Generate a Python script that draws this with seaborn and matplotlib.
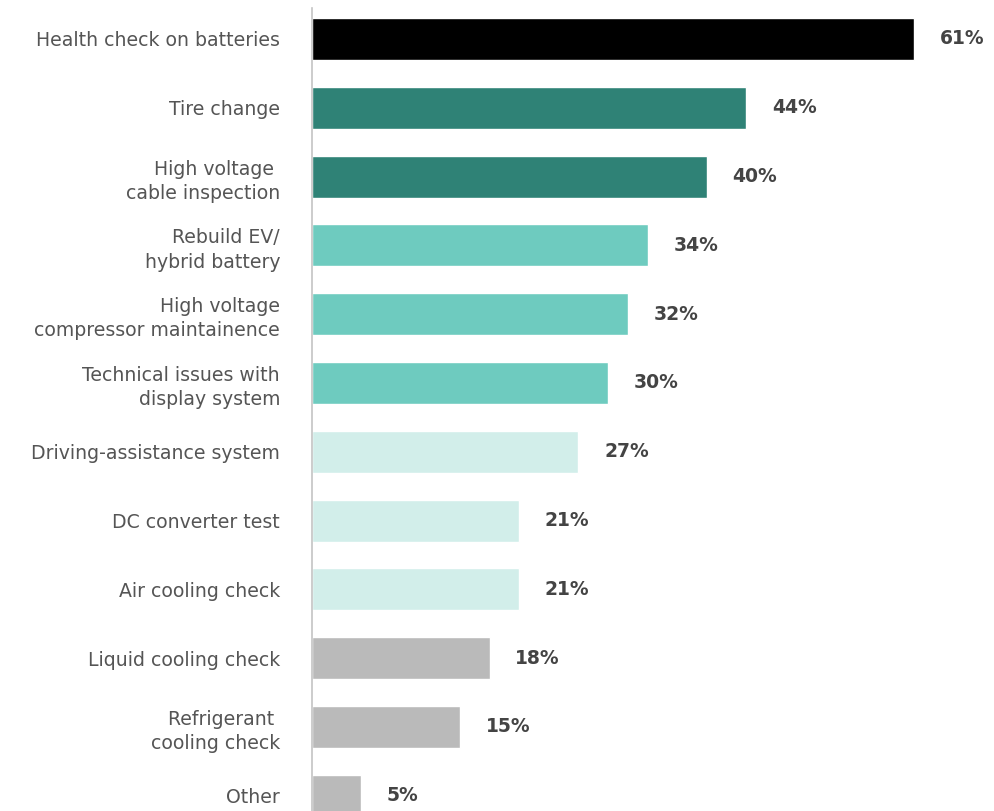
import matplotlib
matplotlib.use("Agg")
import matplotlib.pyplot as plt
import seaborn as sns
import pandas as pd

categories = [
    "Health check on batteries",
    "Tire change",
    "High voltage \ncable inspection",
    "Rebuild EV/\nhybrid battery",
    "High voltage\ncompressor maintainence",
    "Technical issues with\ndisplay system",
    "Driving-assistance system",
    "DC converter test",
    "Air cooling check",
    "Liquid cooling check",
    "Refrigerant \ncooling check",
    "Other",
]
values = [61, 44, 40, 34, 32, 30, 27, 21, 21, 18, 15, 5]
value_labels = ["61%", "44%", "40%", "34%", "32%", "30%", "27%", "21%", "21%", "18%", "15%", "5%"]
bar_colors = ["#000000", "#2f8276", "#2f8276", "#6ecbbf", "#6ecbbf", "#6ecbbf",
              "#d2eeea", "#d2eeea", "#d2eeea", "#bababa", "#bababa", "#bababa"]

df = pd.DataFrame({"category": categories, "value": values})

sns.set_theme(style="white")
plt.rcParams["font.family"] = ["DejaVu Sans"]

fig = plt.figure(figsize=(9.95, 8.11), dpi=100)
ax = fig.add_axes([312 / 995, -0.0279, (995 - 312) / 995, 1.018])

sns.barplot(data=df, y="category", x="value", hue="category", palette=bar_colors,
            orient="h", width=0.61, legend=False, ax=ax, saturation=1)

ax.set_xlim(0, 69.2)
ax.set_ylim(11.55, -0.45)
ax.set_xlabel("")
ax.set_ylabel("")
ax.set_xticks([])
for s in ["top", "right", "bottom"]:
    ax.spines[s].set_visible(False)
ax.spines["left"].set_color("#c4c4c4")
ax.spines["left"].set_linewidth(1.2)

ax.tick_params(axis="y", length=0, pad=23, labelsize=13.6, labelcolor="#555555")
for lbl in ax.get_yticklabels():
    lbl.set_horizontalalignment("right")
    lbl.set_multialignment("right")
    lbl.set_linespacing(1.35)

for i, (v, t) in enumerate(zip(values, value_labels)):
    ax.text(v + 2.6, i, t, va="center", ha="left", fontsize=13.5,
            fontweight="bold", color="#444444")

fig.savefig("out.png", dpi=100)
